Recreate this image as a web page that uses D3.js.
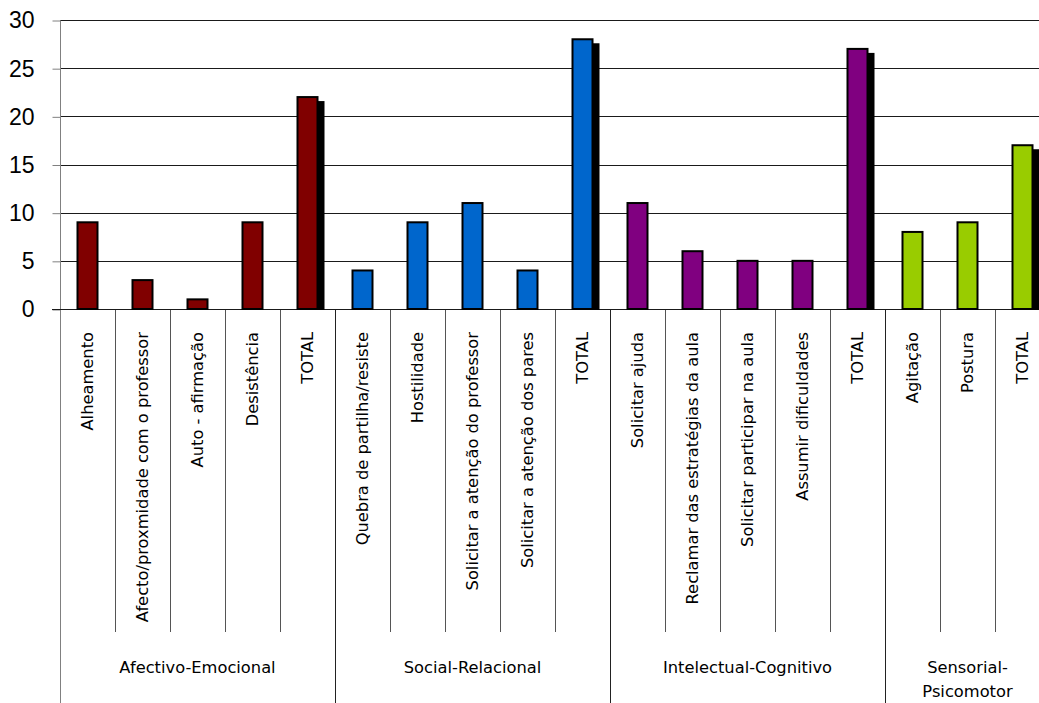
<!DOCTYPE html>
<html>
<head>
<meta charset="utf-8">
<script src="https://cdn.jsdelivr.net/npm/d3@7"></script>
<style>
  html, body { margin: 0; padding: 0; background: #fff; }
  svg { display: block; font-family: "DejaVu Sans", Verdana, sans-serif; }
</style>
</head>
<body>
<svg id="chart" width="1039" height="703"></svg>
<script>
// Behaviour counts by dimension
const groups = ["Afectivo-Emocional", "Social-Relacional", "Intelectual-Cognitivo", "Sensorial-Psicomotor"];
const groupColors = ["#800000", "#0066CC", "#800080", "#99CC00"];

const afectivoLabels = ["Alheamento", "Afecto/proxmidade com o professor", "Auto - afirmação", "Desistência", "TOTAL"];
const afectivoValues = [9, 3, 1, 9, 22];

const socialLabels = ["Quebra de partilha/resiste", "Hostilidade", "Solicitar a atenção do professor", "Solicitar a atenção dos pares", "TOTAL"];
const socialValues = [4, 9, 11, 4, 28];

const intelectualLabels = ["Solicitar ajuda", "Reclamar das estratégias da aula", "Solicitar participar  na aula", "Assumir dificuldades", "TOTAL"];
const intelectualValues = [11, 6, 5, 5, 27];

const sensorialLabels = ["Agitação", "Postura", "TOTAL"];
const sensorialValues = [8, 9, 17];

const yTicks = [0, 5, 10, 15, 20, 25, 30];

// Flatten into one row per bar
const groupLabels = [afectivoLabels, socialLabels, intelectualLabels, sensorialLabels];
const groupValues = [afectivoValues, socialValues, intelectualValues, sensorialValues];
const rows = [];
groupLabels.forEach((labels, g) => {
  labels.forEach((label, i) => {
    rows.push({ id: rows.length, group: g, label, value: groupValues[g][i], total: label === "TOTAL" });
  });
});

const svg = d3.select("#chart");
const plotLeft = 60, plotRight = 1050, plotTop = 20, plotBottom = 309;
const itemLineBottom = 632, chartBottom = 703;
const labelFont = 16.3;

const x = d3.scaleBand().domain(rows.map(d => d.id)).range([plotLeft, plotRight]).paddingInner(0).paddingOuter(0);
const y = d3.scaleLinear().domain([0, 30]).range([plotBottom, plotTop]);

// Horizontal gridlines
svg.append("g")
  .selectAll("line")
  .data(yTicks.filter(t => t > 0))
  .join("line")
  .attr("x1", plotLeft).attr("x2", plotRight)
  .attr("y1", d => Math.round(y(d)) + 0.5).attr("y2", d => Math.round(y(d)) + 0.5)
  .attr("stroke", "#1a1a1a").attr("stroke-width", 1);

// Value axis
const yAxis = svg.append("g")
  .attr("transform", `translate(${plotLeft + 0.5},0.5)`)
  .call(d3.axisLeft(y).tickValues(yTicks).tickSize(8).tickPadding(18));
yAxis.select(".domain").attr("stroke", "#808080").attr("d", `M0,${plotTop}V${chartBottom}`);
yAxis.selectAll(".tick line").attr("stroke", "#808080");
yAxis.selectAll(".tick text")
  .attr("font-size", 23).attr("fill", "#000")
  .attr("font-family", "Liberation Sans, Arial, sans-serif");

// Separators between categories
const bw = x.bandwidth();
svg.append("g")
  .selectAll("line")
  .data(rows.slice(1))
  .join("line")
  .attr("x1", d => Math.round(x(d.id)) + 0.5).attr("x2", d => Math.round(x(d.id)) + 0.5)
  .attr("y1", plotBottom)
  .attr("y2", d => rows[d.id - 1].group !== d.group ? chartBottom : itemLineBottom)
  .attr("stroke", d => rows[d.id - 1].group !== d.group ? "#222" : "#555")
  .attr("stroke-width", 1);

// Category axis baseline
svg.append("line")
  .attr("x1", plotLeft - 8).attr("x2", plotRight)
  .attr("y1", plotBottom + 0.5).attr("y2", plotBottom + 0.5)
  .attr("stroke", "#1a1a1a");

const barW = 20;
// Shadows behind the TOTAL bars
svg.append("g")
  .selectAll("rect")
  .data(rows.filter(d => d.total))
  .join("rect")
  .attr("x", d => x(d.id) + (bw - barW) / 2 + 7)
  .attr("y", d => y(d.value) + 4)
  .attr("width", barW)
  .attr("height", d => plotBottom + 1 - (y(d.value) + 4))
  .attr("fill", "#000");

// Bars
svg.append("g")
  .selectAll("rect")
  .data(rows)
  .join("rect")
  .attr("x", d => x(d.id) + (bw - barW) / 2)
  .attr("y", d => y(d.value))
  .attr("width", barW)
  .attr("height", d => plotBottom - y(d.value))
  .attr("fill", d => groupColors[d.group])
  .attr("stroke", "#000")
  .attr("stroke-width", 2);

// Rotated item labels
svg.append("g")
  .selectAll("text")
  .data(rows)
  .join("text")
  .attr("transform", d => `translate(${x(d.id) + bw / 2},332) rotate(-90)`)
  .attr("text-anchor", "end")
  .attr("dy", "0.36em")
  .attr("font-size", labelFont)
  .attr("fill", "#000")
  .text(d => d.label);

// Group labels
const groupSpan = groups.map((g, gi) => {
  const ids = rows.filter(r => r.group === gi).map(r => r.id);
  return { name: g, cx: (x(ids[0]) + x(ids[ids.length - 1]) + bw) / 2, idx: gi };
});
const gl = svg.append("g")
  .selectAll("text")
  .data(groupSpan)
  .join("text")
  .attr("x", d => d.cx)
  .attr("y", 673)
  .attr("text-anchor", "middle")
  .attr("font-size", labelFont)
  .attr("fill", "#000");
gl.each(function(d) {
  const t = d3.select(this);
  if (d.name === "Sensorial-Psicomotor") {
    t.append("tspan").attr("x", d.cx).attr("y", 673).text("Sensorial-");
    t.append("tspan").attr("x", d.cx).attr("y", 697).text("Psicomotor");
  } else {
    t.text(d.name);
  }
});
</script>
</body>
</html>
